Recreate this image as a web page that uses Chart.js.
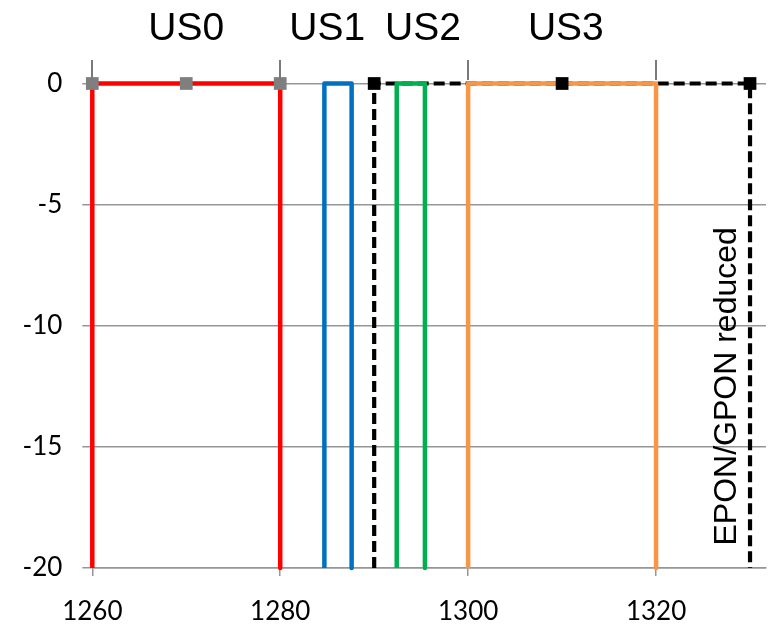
<!DOCTYPE html>
<html>
<head>
<meta charset="utf-8">
<title>Upstream band plan</title>
<script src="https://cdn.jsdelivr.net/npm/chart.js@4.4.1/dist/chart.umd.min.js"></script>
<style>
  html, body { margin: 0; padding: 0; background: #fff; }
  canvas { display: block; }
</style>
</head>
<body>
<canvas id="bandChart" width="775" height="626"></canvas>
<script>
// data
const floorLevel = -20;
const topLevel = 0;
const bandNames = ["US0", "US1", "US2", "US3"];
const bandStart = [1260, 1284.7, 1292.4, 1300];
const bandEnd = [1280, 1287.6, 1295.4, 1320];
const us0MarkerX = [1260, 1270, 1280];
const eponX = [1290, 1290, 1310, 1330, 1330];
const eponY = [-20, 0, 0, 0, -20];
const eponMarkerX = [1290, 1310, 1330];
const eponLabel = "EPON/GPON reduced";
const xTicks = [1260, 1280, 1300, 1320];
const yTicks = [-20, -15, -10, -5, 0];

// look
const bandColors = ["#ff0000", "#0070c0", "#00b050", "#f79646"];
const gridColor = "#969696";
const labelAnchorX = [1270, 1285, 1295.2, 1310.4]; // where the band names sit
const xMax = 1331.7; // picture is cut off on the right

const bandDatasets = bandNames.map((name, i) => ({
  label: name,
  data: [
    { x: bandStart[i], y: floorLevel },
    { x: bandStart[i], y: topLevel },
    { x: bandEnd[i], y: topLevel },
    { x: bandEnd[i], y: floorLevel },
  ],
  borderColor: bandColors[i],
  borderWidth: 4.5,
  borderJoinStyle: "round",
  pointRadius: 0,
  order: 3,
  clip: false,
}));

const datasets = [
  {
    label: "EPON/GPON",
    data: eponX.map((x, i) => ({ x: x, y: eponY[i] })),
    borderColor: "#000",
    borderWidth: 4.2,
    borderDash: [11, 5],
    pointRadius: 0,
    order: 5,
    clip: false,
  },
  ...bandDatasets,
  {
    label: "US0 points",
    data: us0MarkerX.map((x) => ({ x: x, y: topLevel })),
    showLine: false,
    pointStyle: "rect",
    pointRadius: 9,
    pointBorderWidth: 0,
    pointBackgroundColor: "#7f7f7f",
    order: 1,
    clip: false,
  },
  {
    label: "EPON points",
    data: eponMarkerX.map((x) => ({ x: x, y: topLevel })),
    showLine: false,
    pointStyle: "rect",
    pointRadius: 9,
    pointBorderWidth: 0,
    pointBackgroundColor: "#000",
    order: 1,
    clip: false,
  },
];

const textPlugin = {
  id: "bandText",
  afterDraw(chart) {
    const ctx = chart.ctx;
    const area = chart.chartArea;
    const x = chart.scales.x;
    const y = chart.scales.y;
    ctx.save();
    ctx.fillStyle = "#000";
    ctx.textAlign = "center";
    ctx.textBaseline = "alphabetic";
    ctx.font = '39px "Liberation Sans", Arial, sans-serif';
    bandNames.forEach((name, i) => {
      ctx.fillText(name, x.getPixelForValue(labelAnchorX[i]), area.top - 43.5);
    });
    // tick marks sticking up above the 0 line (axis crosses there in the original)
    ctx.fillStyle = "#7a7a7a";
    xTicks.forEach((v) => {
      const px = Math.round(x.getPixelForValue(v));
      ctx.fillRect(px - 1, Math.round(area.top) - 24, 2, 20);
    });
    // vertical label next to the dashed band
    ctx.fillStyle = "#000";
    ctx.translate(x.getPixelForValue(1328.5), y.getPixelForValue(-12.5));
    ctx.rotate(-Math.PI / 2);
    ctx.font = '32px "Liberation Sans", Arial, sans-serif';
    ctx.fillText(eponLabel, 0, 0);
    ctx.restore();
  },
};

new Chart(document.getElementById("bandChart").getContext("2d"), {
  type: "line",
  data: { datasets: datasets },
  options: {
    responsive: false,
    animation: false,
    layout: { padding: { top: 83.5, left: 0, right: 0, bottom: 0 } },
    elements: { line: { tension: 0 } },
    plugins: {
      legend: { display: false },
      tooltip: { enabled: false },
    },
    scales: {
      x: {
        type: "linear",
        position: "bottom",
        min: 1260,
        max: xMax,
        afterBuildTicks: (s) => {
          s.ticks = xTicks.map((v) => ({ value: v }));
        },
        afterFit: (s) => {
          s.height = 58;
        },
        grid: {
          drawOnChartArea: false,
          tickLength: 8,
          color: gridColor,
          lineWidth: 1.5,
        },
        border: { display: true, color: gridColor, width: 1.5 },
        ticks: {
          font: { family: "Lato", size: 26 },
          color: "#000",
          padding: 20,
          maxRotation: 0,
          autoSkip: false,
          callback: (v) => String(v),
        },
      },
      y: {
        type: "linear",
        min: floorLevel,
        max: topLevel,
        afterBuildTicks: (s) => {
          s.ticks = yTicks.map((v) => ({ value: v }));
        },
        afterFit: (s) => {
          s.width = 92.3;
        },
        grid: { color: gridColor, lineWidth: 1.5, tickLength: 10 },
        border: { display: true, color: gridColor, width: 1.5 },
        ticks: {
          font: { family: "Lato", size: 26 },
          color: "#000",
          padding: 20,
        },
      },
    },
  },
  plugins: [textPlugin],
});
</script>
</body>
</html>
